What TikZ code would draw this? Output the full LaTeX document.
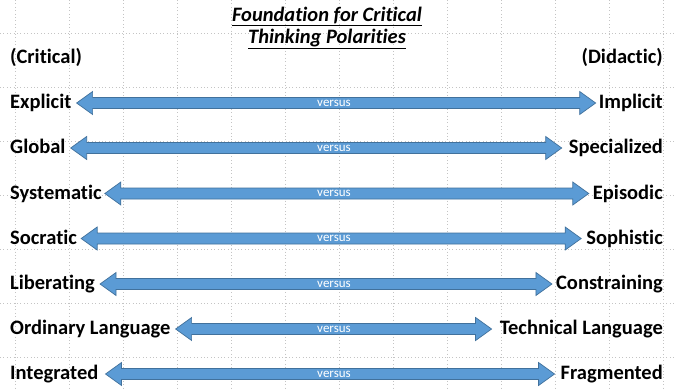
\documentclass[tikz,border=0pt]{standalone}
\usepackage{fontspec}
\setmainfont{Carlito}[Ligatures=NoCommon]
\usepackage{tikz}
\usetikzlibrary{calc,positioning}
\definecolor{arrowblue}{HTML}{5B9BD5}
\definecolor{arrowedge}{HTML}{41719C}
\definecolor{gridgray}{HTML}{C4C4C4}

\begin{document}
\begin{tikzpicture}[
x=1bp, y=-1bp,
gridline/.style={gridgray, line width=0.8bp, dash pattern=on 0.8bp off 2.6bp},
pole/.style={font=\bfseries\fontsize{20.5bp}{24bp}\selectfont, inner sep=0pt, text height=15bp, text depth=4bp},
heading/.style={font=\bfseries\itshape\fontsize{20.5bp}{24bp}\selectfont, inner sep=0pt, anchor=base},
versus/.style={font=\fontsize{13bp}{15bp}\selectfont, text=white, inner sep=0pt},
polarity/.style={fill=arrowblue, draw=arrowedge, line width=0.7bp,
  to path={let \p1=(\tikztostart), \p2=(\tikztotarget) in
    (\x1,\y1) -- (\x1+16bp,\y1+11.5bp) -- (\x1+16bp,\y1+5.5bp) -- (\x2-16bp,\y1+5.5bp)
    -- (\x2-16bp,\y1+11.5bp) -- (\x2,\y1) -- (\x2-16bp,\y1-11.5bp) -- (\x2-16bp,\y1-5.5bp)
    -- (\x1+16bp,\y1-5.5bp) -- (\x1+16bp,\y1-11.5bp) -- cycle}}
]
\useasboundingbox (0,0) rectangle (675,389);
\fill[white] (0,0) rectangle (675,389);

% dotted background grid
\foreach \gx in {15,69,...,663} \draw[gridline] (\gx,0) -- (\gx,389);
\foreach \gy in {33,87,...,357} \draw[gridline] (0,\gy) -- (675,\gy);

% title
\node[heading] (title) at (327,21) {\underline{Foundation for Critical}};
\node[heading] (title2) at (327,43) {\underline{Thinking Polarities}};

% column heads
\node[pole, anchor=west] (critical) at (10,57.5) {(Critical)};
\node[pole, anchor=east] (didactic) at (663,57.5) {(Didactic)};

% poles, left and right
\node[pole, anchor=west] (explicit) at (10,103) {Explicit};
\node[pole, anchor=east] (implicit) at (663,103) {Implicit};
\node[pole, anchor=west] (global) at (10,148) {Global};
\node[pole, anchor=east] (specialized) at (663,148) {Specialized};
\node[pole, anchor=west] (systematic) at (10,193.5) {Systematic};
\node[pole, anchor=east] (episodic) at (663,193.5) {Episodic};
\node[pole, anchor=west] (socratic) at (10,238.5) {Socratic};
\node[pole, anchor=east] (sophistic) at (663,238.5) {Sophistic};
\node[pole, anchor=west] (liberating) at (10,284) {Liberating};
\node[pole, anchor=east] (constraining) at (663,284) {Constraining};
\node[pole, anchor=west] (ordinary) at (10,329) {Ordinary Language};
\node[pole, anchor=east] (technical) at (663,329) {Technical Language};
\node[pole, anchor=west] (integrated) at (10,374) {Integrated};
\node[pole, anchor=east] (fragmented) at (663,374) {Fragmented};

% double arrows
\draw[polarity] ([xshift=5bp]explicit.east) to ([xshift=-3bp]implicit.west);
\draw[polarity] ([xshift=5bp]global.east) to ([xshift=-7bp]specialized.west);
\draw[polarity] ([xshift=3bp]systematic.east) to ([xshift=-4bp]episodic.west);
\draw[polarity] ([xshift=4bp]socratic.east) to ([xshift=-5bp]sophistic.west);
\draw[polarity] ([xshift=5bp]liberating.east) to ([xshift=-4bp]constraining.west);
\draw[polarity] ([xshift=5bp]ordinary.east) to ([xshift=-8bp]technical.west);
\draw[polarity] ([xshift=7bp]integrated.east) to ([xshift=-6bp]fragmented.west);

\node[versus] (vs1) at (334,103) {versus};
\node[versus] (vs2) at (334,148) {versus};
\node[versus] (vs3) at (334,193.5) {versus};
\node[versus] (vs4) at (334,238.5) {versus};
\node[versus] (vs5) at (334,284) {versus};
\node[versus] (vs6) at (334,329) {versus};
\node[versus] (vs7) at (334,374) {versus};
\end{tikzpicture}
\end{document}
